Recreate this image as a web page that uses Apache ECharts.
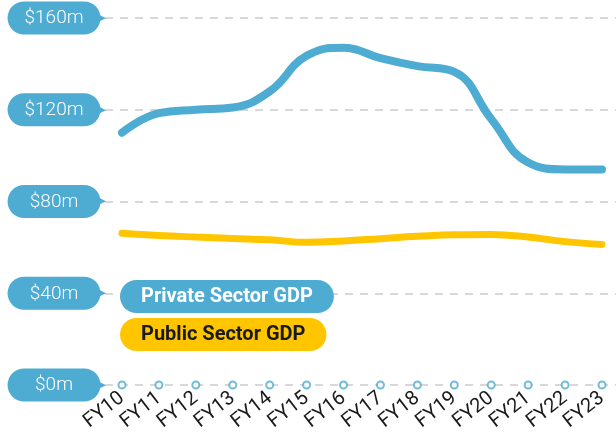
<!DOCTYPE html>
<html>
<head>
<meta charset="utf-8">
<script src="https://cdn.jsdelivr.net/npm/echarts@6/dist/echarts.min.js"></script>
<style>html,body{margin:0;padding:0;background:#fff;}#c{width:616px;height:444px;}</style>
</head>
<body>
<div id="c"></div>
<script>
const categories = ['FY10','FY11','FY12','FY13','FY14','FY15','FY16','FY17','FY18','FY19','FY20','FY21','FY22','FY23'];
const privateGDP = [110, 118.5, 120, 121, 128, 143.5, 147, 142.5, 139, 136.5, 116, 97, 94, 94];
const publicGDP = [66.2, 65.2, 64.5, 63.9, 63.3, 62.2, 62.8, 63.8, 64.8, 65.5, 65.6, 64.5, 62.5, 61.3];
const baseline = [0,0,0,0,0,0,0,0,0,0,0,0,0,0];
const yTicks = { min: 0, max: 160, interval: 40 };

const BLUE = '#4eabd2';
const YELLOW = '#ffc600';
const FONT = 'Roboto';

const chart = echarts.init(document.getElementById('c'), null, { renderer: 'canvas' });
chart.setOption({
  animation: false,
  textStyle: { fontFamily: FONT },
  grid: [
    { left: 105, right: 0, top: 18, bottom: 59 },
    { left: 122, right: 14, top: 18, bottom: 59 }
  ],
  xAxis: [
    { gridIndex: 0, type: 'category', data: categories, show: false, boundaryGap: false },
    {
      gridIndex: 1, type: 'category', data: categories, boundaryGap: false,
      axisLine: { show: false }, axisTick: { show: false },
      axisLabel: { rotate: 38, fontSize: 20, color: '#1a1a1a', margin: 11, fontFamily: FONT, interval: 0 }
    }
  ],
  yAxis: [
    {
      gridIndex: 0, type: 'value', min: yTicks.min, max: yTicks.max, interval: yTicks.interval,
      axisLine: { show: false }, axisTick: { show: false },
      splitLine: { lineStyle: { color: '#cccccc', type: [8, 7], width: 1.5 } },
      axisLabel: {
        margin: -1,
        formatter: v => '{a|$' + v + 'm}{b|▶}',
        rich: {
          a: { backgroundColor: BLUE, color: '#fff', fontSize: 19, fontWeight: 300, fontFamily: FONT, width: 73, height: 20, lineHeight: 20, align: 'center', padding: [7, 10, 6, 10], borderRadius: 17 },
          b: { color: BLUE, fontSize: 11, fontFamily: 'DejaVu Sans', height: 10, lineHeight: 10, padding: [0, 0, 0, -3] }
        }
      }
    },
    { gridIndex: 1, type: 'value', min: yTicks.min, max: yTicks.max, interval: yTicks.interval, show: false }
  ],
  legend: {
    orient: 'vertical', left: 110, top: 275, itemGap: 5, itemWidth: 0, itemHeight: 0,
    selectedMode: false,
    data: [
      { name: 'Private Sector GDP', icon: 'rect', textStyle: { color: '#fff', backgroundColor: BLUE, fontSize: 20, fontWeight: 'bold', fontFamily: FONT, padding: [6, 21], height: 21, lineHeight: 21, borderRadius: 17 } },
      { name: 'Public Sector GDP', icon: 'rect', textStyle: { color: '#1a1a1a', backgroundColor: YELLOW, fontSize: 20, fontWeight: 'bold', fontFamily: FONT, padding: [6, 21], height: 21, lineHeight: 21, borderRadius: 17 } }
    ]
  },
  series: [
    {
      name: 'Private Sector GDP', type: 'line', xAxisIndex: 1, yAxisIndex: 1, data: privateGDP,
      smooth: 0.45, symbol: 'none', lineStyle: { color: BLUE, width: 8, cap: 'round' }, itemStyle: { color: BLUE }
    },
    {
      name: 'Public Sector GDP', type: 'line', xAxisIndex: 1, yAxisIndex: 1, data: publicGDP,
      smooth: 0.45, symbol: 'none', lineStyle: { color: YELLOW, width: 7, cap: 'round' }, itemStyle: { color: YELLOW }
    },
    {
      name: 'base', type: 'scatter', xAxisIndex: 1, yAxisIndex: 1, data: baseline,
      symbol: 'circle', symbolSize: 7, itemStyle: { color: '#fff', borderColor: BLUE, borderWidth: 2 }, z: 5
    }
  ]
});
</script>
</body>
</html>
